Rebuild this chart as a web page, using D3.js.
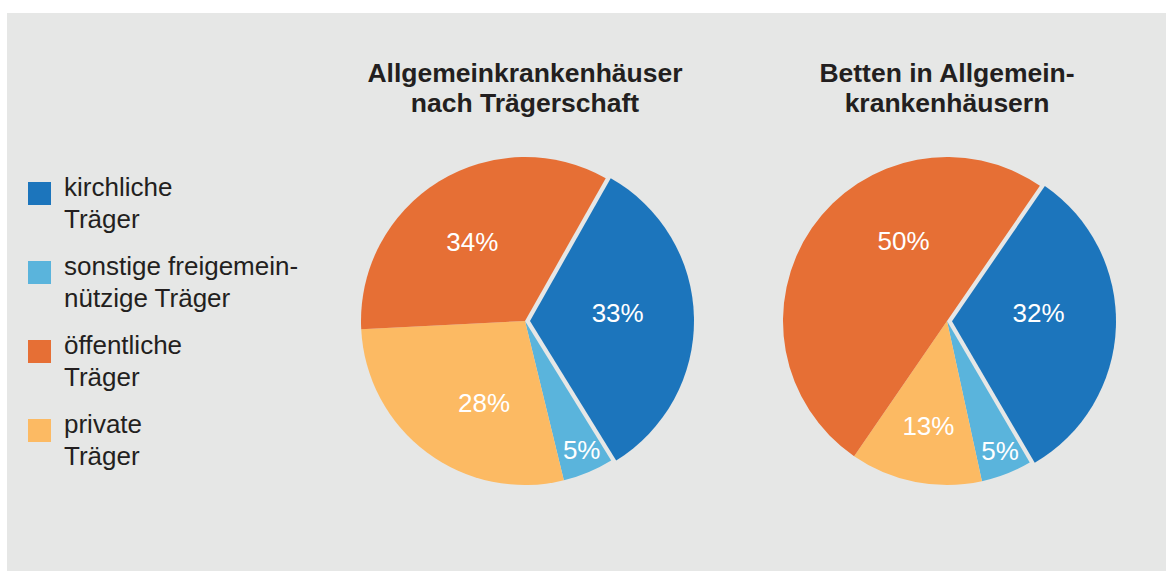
<!DOCTYPE html>
<html lang="de">
<head>
<meta charset="UTF-8">
<title>Allgemeinkrankenhäuser nach Trägerschaft</title>
<script src="https://d3js.org/d3.v7.min.js"></script>
<style>
  body { margin: 0; background: #fff; }
  text { font-family: "Liberation Sans", Arial, Helvetica, sans-serif; }
</style>
</head>
<body>
<script>
// data (in legend order)
var categories = ["kirchliche Träger", "sonstige freigemeinnützige Träger", "öffentliche Träger", "private Träger"];
var legendLines = [["kirchliche", "Träger"], ["sonstige freigemein-", "nützige Träger"], ["öffentliche", "Träger"], ["private", "Träger"]];
var colors = ["#1c75bc", "#5ab4dc", "#e66f35", "#fcba63"];
var titles = [["Allgemeinkrankenhäuser", "nach Trägerschaft"], ["Betten in Allgemein-", "krankenhäusern"]];
var hospitals = [33, 5, 34, 28];
var beds = [32, 5, 50, 13];

// layout
var width = 1166, height = 571;
var radius = 164, explode = 5;
var drawOrder = [0, 1, 3, 2]; // clockwise: kirchliche, sonstige, private, öffentliche
var charts = [
  { values: hospitals, title: titles[0], cx: 525, cy: 321, start: 29.5,
    labels: [{ da: -4, r: 88 }, { da: -1, r: 141 }, { da: -2, r: 95 }, { da: -10, r: 91 }] },
  { values: beds, title: titles[1], cx: 947, cy: 321, start: 34.5,
    labels: [{ da: -8, r: 87 }, { da: -1, r: 140 }, { da: 27, r: 91 }, { da: -1, r: 106 }] }
];

var svg = d3.select("body").append("svg")
  .attr("width", width)
  .attr("height", height);

svg.append("rect")
  .attr("x", 7).attr("y", 13)
  .attr("width", width - 7).attr("height", height - 13)
  .attr("fill", "#e6e7e6");

var rad = Math.PI / 180;
var arc = d3.arc().innerRadius(0).outerRadius(radius);

charts.forEach(function(c) {
  var pie = d3.pie().sort(null).value(function(k) { return c.values[k]; })
    .startAngle(c.start * rad).endAngle(c.start * rad + 2 * Math.PI);
  var arcs = pie(drawOrder);

  var g = svg.append("g").attr("transform", "translate(" + c.cx + "," + c.cy + ")");

  var slice = g.selectAll("g.slice").data(arcs).enter().append("g")
    .attr("class", "slice")
    .attr("transform", function(d) {
      if (d.data !== 0) return null;
      var m = (d.startAngle + d.endAngle) / 2;
      return "translate(" + (Math.sin(m) * explode) + "," + (-Math.cos(m) * explode) + ")";
    });

  slice.append("path")
    .attr("d", arc)
    .attr("fill", function(d) { return colors[d.data]; });

  slice.append("text")
    .attr("transform", function(d) {
      var l = c.labels[d.data];
      var a = (d.startAngle + d.endAngle) / 2 + l.da * rad;
      var p = d3.arc().innerRadius(l.r).outerRadius(l.r).centroid({ startAngle: a, endAngle: a });
      return "translate(" + p[0] + "," + p[1] + ")";
    })
    .attr("dy", "0.36em")
    .attr("text-anchor", "middle")
    .attr("fill", "#fff")
    .style("font-size", "26px")
    .text(function(d) { return d.value + "%"; });

  svg.append("text")
    .attr("x", c.cx)
    .attr("y", 82)
    .attr("text-anchor", "middle")
    .attr("fill", "#231f20")
    .style("font-size", "26.5px")
    .style("font-weight", "bold")
    .selectAll("tspan").data(c.title).enter().append("tspan")
    .attr("x", c.cx)
    .attr("dy", function(d, i) { return i ? 30 : 0; })
    .text(function(d) { return d; });
});

// legend
var legend = svg.append("g").selectAll("g").data(categories).enter().append("g")
  .attr("transform", function(d, i) { return "translate(28," + (196 + i * 79) + ")"; });

legend.append("rect")
  .attr("x", 0).attr("y", -14)
  .attr("width", 23).attr("height", 23)
  .attr("fill", function(d, i) { return colors[i]; });

legend.append("text")
  .attr("x", 36)
  .attr("fill", "#231f20")
  .style("font-size", "26px")
  .selectAll("tspan").data(function(d, i) { return legendLines[i]; }).enter().append("tspan")
  .attr("x", 36)
  .attr("dy", function(d, i) { return i ? 32 : 0; })
  .text(function(d) { return d; });
</script>
</body>
</html>
